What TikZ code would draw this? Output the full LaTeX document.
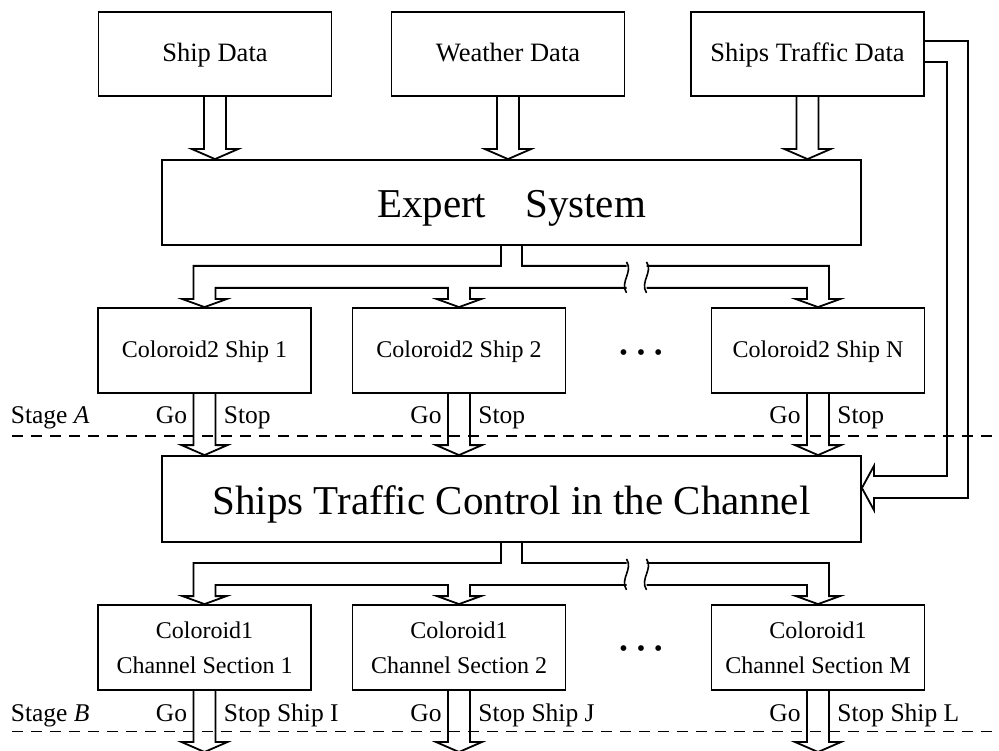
\documentclass[tikz,border=0pt]{standalone}
\usepackage{fontspec}
\setmainfont{Liberation Serif}
\usetikzlibrary{calc}

% hollow (double-line) arrow from the centre of #1 down to the tip #2
\newcommand\harrow[2]{%
  \draw[conn] let \p1=#1, \p2=#2 in
    (\x1-11pt,\y1) -- (\x1-11pt,\y2+10pt) -- (\x1-23pt,\y2+10pt) -- (\x1,\y2)
    -- (\x1+23pt,\y2+10pt) -- (\x1+11pt,\y2+10pt) -- (\x1+11pt,\y1);}

% hollow splitter bus from #1 to the three targets #2, #3, #4, with a break mark
\newcommand\splitter[4]{%
  \draw[conn] let \p0=(#1.south), \p1=(#2.north), \p2=(#3.north), \p3=(#4.north) in
    (\x0-10.5pt,\y0) -- (\x0-10.5pt,\y0-20pt) -- (\x1-11pt,\y0-20pt) -- (\x1-11pt,\y1+8pt)
    -- (\x1-22pt,\y1+8pt) -- (\x1,\y1) -- (\x1+22pt,\y1+8pt) -- (\x1+11pt,\y1+8pt)
    -- (\x1+11pt,\y0-42pt) -- (\x2-11pt,\y0-42pt) -- (\x2-11pt,\y2+8pt)
    -- (\x2-22pt,\y2+8pt) -- (\x2,\y2) -- (\x2+22pt,\y2+8pt) -- (\x2+11pt,\y2+8pt)
    -- (\x2+11pt,\y0-42pt) -- (\x0+115pt,\y0-42pt)
    (\x0+10.5pt,\y0) -- (\x0+10.5pt,\y0-20pt) -- (\x0+115pt,\y0-20pt)
    (\x0+135pt,\y0-20pt) -- (\x3+11pt,\y0-20pt) -- (\x3+11pt,\y3+8pt)
    -- (\x3+22pt,\y3+8pt) -- (\x3,\y3) -- (\x3-22pt,\y3+8pt) -- (\x3-11pt,\y3+8pt)
    -- (\x3-11pt,\y0-42pt) -- (\x0+135pt,\y0-42pt);
  \draw[brk] let \p0=(#1.south) in
    (\x0+115pt,\y0-16pt) .. controls (\x0+122pt,\y0-26pt) and (\x0+108pt,\y0-36pt) .. (\x0+115pt,\y0-47pt)
    (\x0+135pt,\y0-16pt) .. controls (\x0+142pt,\y0-26pt) and (\x0+128pt,\y0-36pt) .. (\x0+135pt,\y0-47pt);}

\begin{document}
\begin{tikzpicture}[x=1pt,y=-1pt,line width=1.8pt,
  box/.style={draw,line width=1.8pt,inner sep=0pt,align=center},
  databox/.style={box,minimum width=233pt,minimum height=84pt,
    text height=16pt,text depth=0pt,font=\fontsize{26.5}{30}\selectfont},
  mainbox/.style={box,minimum width=699pt,minimum height=85pt,
    text height=30pt,text depth=0pt,font=\fontsize{41}{46}\selectfont},
  colbox/.style={box,minimum width=213pt,minimum height=85pt,font=\fontsize{24}{35}\selectfont},
  colone/.style={colbox,text height=15pt,text depth=0pt},
  lbl/.style={inner sep=0pt,font=\fontsize{25.5}{30}\selectfont},
  dotsnode/.style={inner sep=0pt,anchor=base,font=\fontsize{24}{30}\selectfont},
  conn/.style={line width=1.8pt,line join=miter},
  brk/.style={line width=1.6pt},
  stage/.style={line width=1.4pt,dash pattern=on 11pt off 8pt}]

\useasboundingbox (0,0) rectangle (999,751);

% data sources
\node[databox] (shipdata) at (215,54) {Ship Data};
\node[databox] (weather)  at (508,54) {Weather Data};
\node[databox] (tdata)    at (807.5,54) {Ships Traffic Data};

% expert system and traffic control
\node[mainbox] (expert)  at (511.5,202.5) {Expert\hspace{0.95em}System};
\node[mainbox,minimum height=86pt] (control) at (511.5,499) {Ships Traffic Control in the Channel};

% coloroid2 ship boxes
\node[colone] (csa) at (204.5,350.5) {Coloroid2 Ship 1};
\node[colone] (csb) at (459,350.5)   {Coloroid2 Ship 2};
\node[colone] (csn) at (818,350.5)   {Coloroid2 Ship N};
\node[dotsnode] (dotsa) at (641,360)
  {\textbullet\hspace{9pt}\textbullet\hspace{9pt}\textbullet};

% coloroid1 channel section boxes
\node[colbox] (cca) at (204.5,647.5) {Coloroid1\\Channel Section 1};
\node[colbox] (ccb) at (459,647.5)   {Coloroid1\\Channel Section 2};
\node[colbox] (ccm) at (818,647.5)   {Coloroid1\\Channel Section M};
\node[dotsnode] (dotsb) at (641,656)
  {\textbullet\hspace{9pt}\textbullet\hspace{9pt}\textbullet};

% data into the expert system
\harrow{(shipdata.south)}{(shipdata.south |- expert.north)}
\harrow{(weather.south)}{(weather.south |- expert.north)}
\harrow{(tdata.south)}{(tdata.south |- expert.north)}

% distribution buses
\splitter{expert}{csa}{csb}{csn}
\splitter{control}{cca}{ccb}{ccm}

% go / stop decisions into the traffic control
\harrow{(csa.south)}{(csa.south |- control.north)}
\harrow{(csb.south)}{(csb.south |- control.north)}
\harrow{(csn.south)}{(csn.south |- control.north)}

% outputs of the channel sections
\coordinate (outa) at (204.5,752);
\coordinate (outb) at (459,752);
\coordinate (outm) at (818,752);
\harrow{(cca.south)}{(outa)}
\harrow{(ccb.south)}{(outb)}
\harrow{(ccm.south)}{(outm)}

% traffic data fed straight to the traffic control
\draw[conn] let \p1=(tdata.east), \p2=(control.east) in
  (\x1,\y1+13pt) -- (\x1+43pt,\y1+13pt) -- (\x1+43pt,\y2+1pt) -- (\x2+12pt,\y2+1pt)
  -- (\x2+12pt,\y2-11pt) -- (\x2,\y2+11pt) -- (\x2+12pt,\y2+33pt) -- (\x2+12pt,\y2+23pt)
  -- (\x1+22pt,\y2+23pt) -- (\x1+22pt,\y1-8pt) -- (\x1,\y1-8pt);

% stage separators
\coordinate (sal) at (12,436);  \coordinate (sar) at (999,436);
\coordinate (sbl) at (12,731.5);  \coordinate (sbr) at (999,731.5);
\draw[stage] (sal) -- (sar);
\draw[stage] (sbl) -- (sbr);
\node[lbl,anchor=base west] (stA) at (10,423) {Stage \textit{A}};
\node[lbl,anchor=base west] (stB) at (10,721) {Stage \textit{B}};

% stage A labels
\foreach \b in {csa,csb,csn}{
  \node[lbl,anchor=base east] at ($(\b.south)+(-16.5,30)$) {Go};
  \node[lbl,anchor=base west] at ($(\b.south)+(18.5,30)$) {Stop};}

% stage B labels
\node[lbl,anchor=base east] at ($(cca.south)+(-16.5,31)$) {Go};
\node[lbl,anchor=base west] at ($(cca.south)+(18.5,31)$) {Stop Ship I};
\node[lbl,anchor=base east] at ($(ccb.south)+(-16.5,31)$) {Go};
\node[lbl,anchor=base west] at ($(ccb.south)+(18.5,31)$) {Stop Ship J};
\node[lbl,anchor=base east] at ($(ccm.south)+(-16.5,31)$) {Go};
\node[lbl,anchor=base west] at ($(ccm.south)+(18.5,31)$) {Stop Ship L};
\end{tikzpicture}
\end{document}
